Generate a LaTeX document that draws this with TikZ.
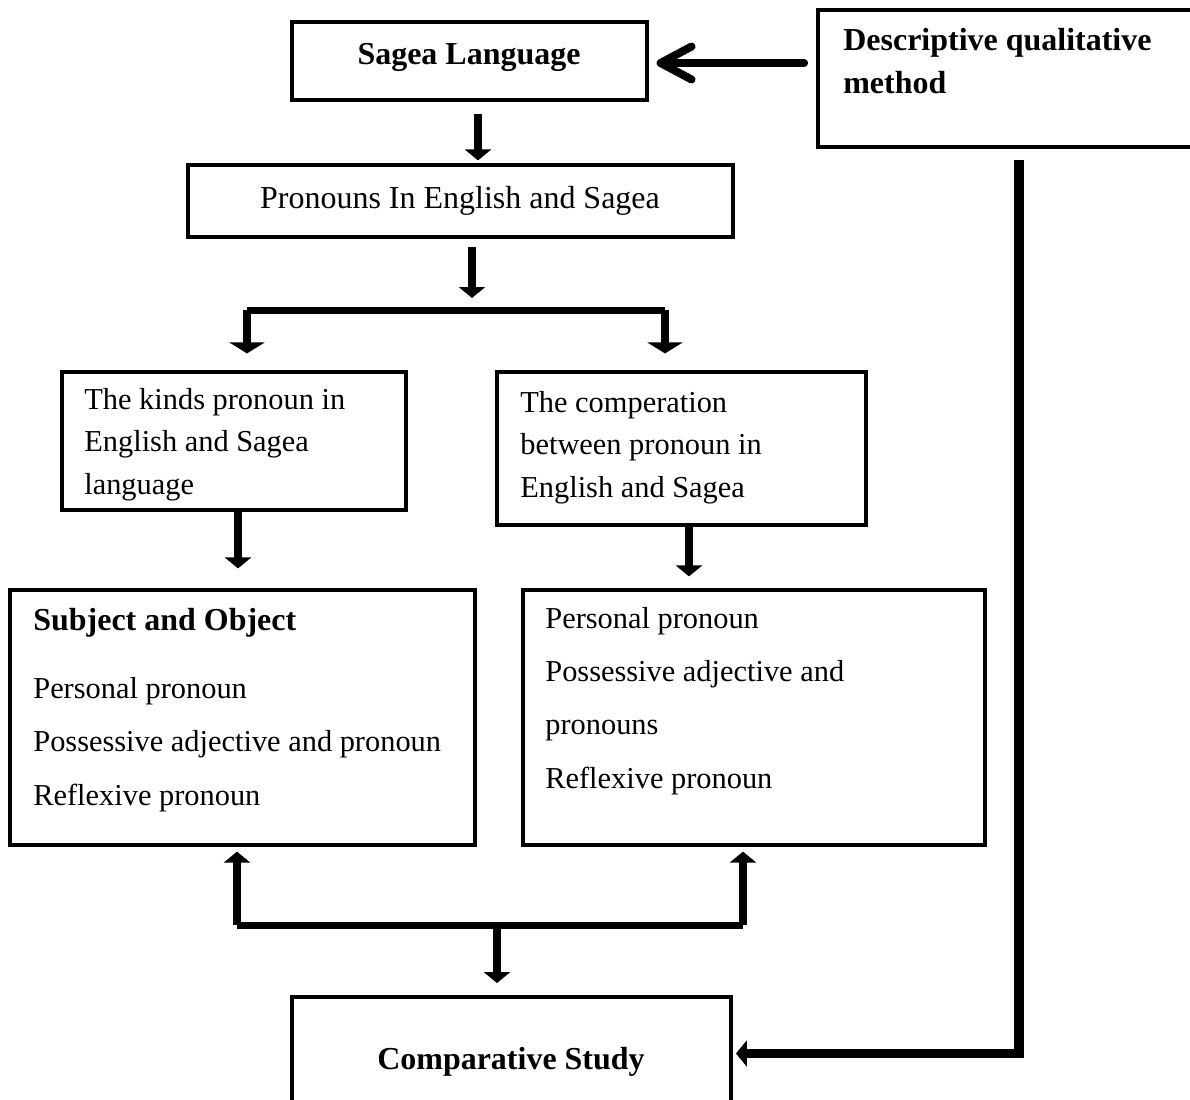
\documentclass[tikz,border=0pt]{standalone}
\usepackage{fontspec}
\setmainfont{Liberation Serif}
\usetikzlibrary{arrows.meta,calc}

\begin{document}
\begin{tikzpicture}[
    x=0.02cm, y=-0.02cm,
    font=\fontsize{17.3pt}{24pt}\selectfont,
    box/.style={draw, line width=1.8pt, inner sep=0pt},
    txt/.style={anchor=base west, align=left, inner sep=0pt},
    big/.style={font=\fontsize{18.2pt}{24pt}\selectfont},
    flow/.style={line width=0.17cm, -{Triangle[width=0.52cm, length=0.22cm]}},
    barb/.style={line width=0.16cm, line cap=round,
                 -{Straight Barb[length=0.62cm, width=0.66cm, round]}},
    rail/.style={line width=0.14cm},
  ]
  \useasboundingbox (0,0) rectangle (1190,1099);

  % --- Boxes --------------------------------------------------------------
  \node[box, minimum width=0.02cm*355, minimum height=0.02cm*78] (lang) at (469.5,61) {};
  \node[box, line width=2.2pt, minimum width=0.02cm*374, minimum height=0.02cm*137] (method) at (1005,78.5) {};
  \node[box, minimum width=0.02cm*545, minimum height=0.02cm*72] (pron) at (460.5,201) {};
  \node[box, minimum width=0.02cm*344, minimum height=0.02cm*138] (kinds) at (234,441) {};
  \node[box, minimum width=0.02cm*369, minimum height=0.02cm*153] (comp) at (681.5,448.5) {};
  \node[box, minimum width=0.02cm*465, minimum height=0.02cm*255] (subj) at (242.5,717.5) {};
  \node[box, minimum width=0.02cm*462, minimum height=0.02cm*255] (list) at (754,717.5) {};
  \node[box, line width=2.2pt, minimum width=0.02cm*439, minimum height=0.02cm*113] (study) at (511.5,1053.5) {};

  % --- Texts (base = last line) -------------------------------------------
  \node[txt, big, anchor=base] (langtxt) at (469,64) {\textbf{Sagea Language}};
  \node[txt, big] (methodtxt) at (843,93) {\textbf{Descriptive qualitative}\\\textbf{method}};
  \node[txt, big, anchor=base] (prontxt) at (460,208) {Pronouns In English and Sagea};
  \node[txt] (kindstxt) at (84,494) {The kinds pronoun in\\English and Sagea\\language};
  \node[txt] (comptxt) at (520,497) {The comperation\\between pronoun in\\English and Sagea};
  \node[txt] (subjtxt) at (33,805) {{\fontsize{18.2pt}{24pt}\selectfont\textbf{Subject and Object}}\\[14.7pt]Personal pronoun\\[6.2pt]Possessive adjective and pronoun\\[6.2pt]Reflexive pronoun};
  \node[txt] (listtxt) at (545,788) {Personal pronoun\\[6.2pt]Possessive adjective and\\[6.2pt]pronouns\\[6.2pt]Reflexive pronoun};
  \node[txt, big, anchor=base] (studytxt) at (511,1069) {\textbf{Comparative Study}};

  % --- Arrows -------------------------------------------------------------
  \draw[barb, shorten <=0.24cm, shorten >=0.16cm] (method.west |- 0,63) -- (lang.east |- 0,63);
  \draw[flow, shorten <=0.24cm, shorten >=0.06cm] ([xshift=0.17cm]lang.south) -- ([xshift=0.17cm]lang.south |- pron.north);

  \coordinate (split) at (472,310);
  \coordinate (lbend) at (247,310);
  \coordinate (rbend) at (665,310);
  \draw[flow, shorten <=0.16cm, shorten >=0.24cm] (split |- pron.south) -- (split);
  \draw[rail] (lbend) -- (rbend);
  \draw[flow, -{Triangle[width=0.7cm, length=0.22cm]}, shorten >=0.34cm] (lbend) -- (lbend |- kinds.north);
  \draw[flow, -{Triangle[width=0.7cm, length=0.22cm]}, shorten >=0.34cm] (rbend) -- (rbend |- comp.north);

  \draw[flow, shorten >=0.4cm] ([xshift=0.08cm]kinds.south) -- ([xshift=0.08cm]kinds.south |- subj.north);
  \draw[flow, shorten >=0.24cm] ([xshift=0.15cm]comp.south) -- ([xshift=0.15cm]comp.south |- list.north);

  \coordinate (join) at (497,925);
  \coordinate (lup) at (237,925);
  \coordinate (rup) at (743,925);
  \draw[rail] (lup) -- (rup);
  \draw[flow, shorten >=0.1cm] (lup) -- (lup |- subj.south);
  \draw[flow, shorten >=0.1cm] (rup) -- (rup |- list.south);
  \draw[flow, shorten >=0.24cm] (join) -- (join |- study.north);

  \coordinate (side) at (1019,0);
  \draw[flow, line width=0.19cm, shorten <=0.22cm, shorten >=0.06cm] (side |- method.south) |- (study.east);

\end{tikzpicture}
\end{document}
